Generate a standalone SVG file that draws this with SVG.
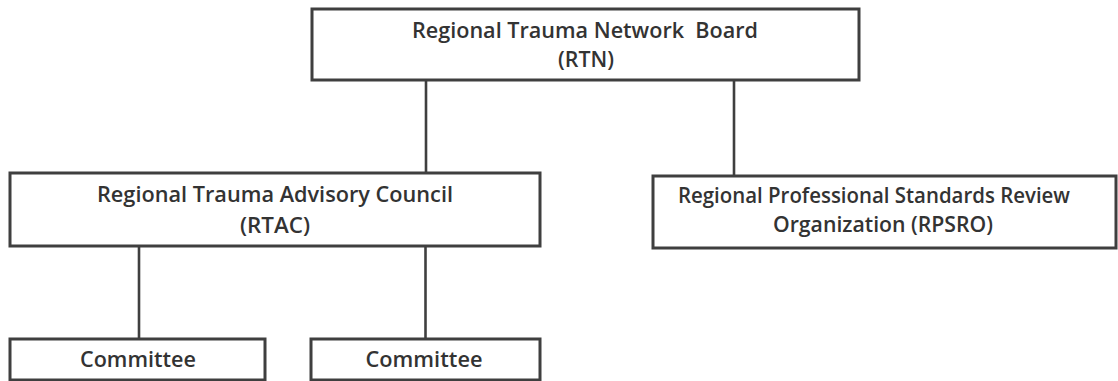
<svg xmlns="http://www.w3.org/2000/svg" width="1118" height="381" viewBox="0 0 1118 381">
<style>
.box{fill:#fff;stroke:#3f3f3f;stroke-width:3}
.con{stroke:#3f3f3f;stroke-width:2.6;fill:none}
.t{font-family:"Open Sans","Liberation Sans",sans-serif;font-size:21px;font-weight:600;fill:#333;text-anchor:middle}
</style>
<rect width="1118" height="381" fill="#fff"/>
<g id="connectors">
<line class="con" x1="426" y1="80" x2="426" y2="173"/>
<line class="con" x1="734" y1="81" x2="734" y2="176"/>
<line class="con" x1="139" y1="246" x2="139" y2="339"/>
<line class="con" x1="425.5" y1="246" x2="425.5" y2="339"/>
</g>
<g id="rtn">
<rect class="box" x="312" y="9" width="547" height="71"/>
<text class="t" x="585" y="38" textLength="346" lengthAdjust="spacingAndGlyphs" xml:space="preserve">Regional Trauma Network  Board</text>
<text class="t" x="586" y="67" textLength="56" lengthAdjust="spacingAndGlyphs">(RTN)</text>
</g>
<g id="rtac">
<rect class="box" x="10" y="173" width="530" height="73"/>
<text class="t" x="275" y="202" textLength="356" lengthAdjust="spacingAndGlyphs">Regional Trauma Advisory Council</text>
<text class="t" x="275" y="233" textLength="70" lengthAdjust="spacingAndGlyphs">(RTAC)</text>
</g>
<g id="rpsro">
<rect class="box" x="653" y="176" width="463" height="72"/>
<text class="t" x="874" y="203" textLength="392" lengthAdjust="spacingAndGlyphs">Regional Professional Standards Review</text>
<text class="t" x="883" y="232" textLength="220" lengthAdjust="spacingAndGlyphs">Organization (RPSRO)</text>
</g>
<g id="committee1">
<rect class="box" x="10" y="339" width="255" height="41"/>
<text class="t" x="138" y="367" textLength="116" lengthAdjust="spacingAndGlyphs">Committee</text>
</g>
<g id="committee2">
<rect class="box" x="311" y="339" width="229" height="41"/>
<text class="t" x="424" y="367" textLength="117" lengthAdjust="spacingAndGlyphs">Committee</text>
</g>
</svg>
